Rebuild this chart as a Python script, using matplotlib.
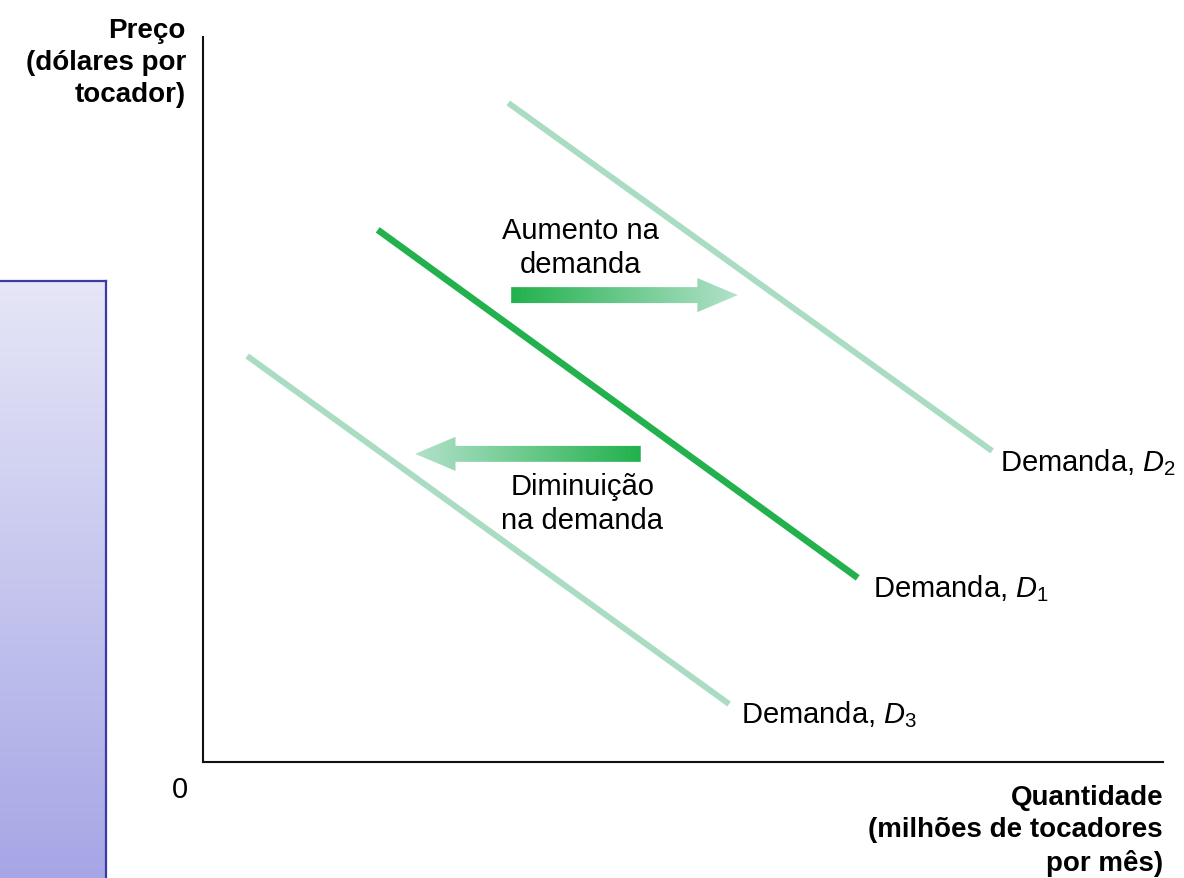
import numpy as np
import matplotlib
matplotlib.use("Agg")
import matplotlib.pyplot as plt
from matplotlib.patches import Polygon
from matplotlib.colors import LinearSegmentedColormap

plt.rcParams['font.family'] = ['Liberation Sans', 'DejaVu Sans']
plt.rcParams['mathtext.fontset'] = 'custom'
plt.rcParams['mathtext.rm'] = 'Liberation Sans'
plt.rcParams['mathtext.it'] = 'Liberation Sans:italic'

# demand curves: (x0, y0) -> (x1, y1) in quantity / price units
d1_x = [1.82, 6.82]
d1_y = [7.34, 2.54]
d2_x = [3.18, 8.22]
d2_y = [9.09, 4.29]
d3_x = [0.46, 5.48]
d3_y = [5.60, 0.80]

# shift arrows: start x, tip x, y
up_arrow = (3.21, 5.57, 6.44)
down_arrow = (4.56, 2.21, 4.25)

dark_green = '#22b14c'
light_green = '#a9dcc2'
FS = 21
FS_BOLD = 20
LS = 1.27

fig = plt.figure(figsize=(11.84, 8.79), dpi=100)

# blue decorative panel on the left
W, H = 1184, 879
bx = fig.add_axes([0, 0, 106 / W, (879 - 282) / H])
grad = np.linspace(0, 1, 256).reshape(-1, 1)
blue_cmap = LinearSegmentedColormap.from_list('b', ['#e6e6f7', '#a6a6e6'])
bx.imshow(grad, aspect='auto', cmap=blue_cmap, extent=[0, 1, 0, 1])
bx.set_xticks([])
bx.set_yticks([])
for s in ['left', 'bottom']:
    bx.spines[s].set_visible(False)
for s in ['top', 'right']:
    bx.spines[s].set_color('#3a3aa5')
    bx.spines[s].set_linewidth(1.6)

ax = fig.add_axes([203 / W, (879 - 763) / H, 960 / W, 725 / H])
ax.set_xlim(0, 10)
ax.set_ylim(0, 10)
ax.set_xticks([])
ax.set_yticks([])
ax.spines['top'].set_visible(False)
ax.spines['right'].set_visible(False)
ax.spines['left'].set_linewidth(1.5)
ax.spines['bottom'].set_linewidth(1.5)
ax.spines['left'].set_color('#111111')
ax.spines['bottom'].set_color('#111111')

ax.plot(d2_x, d2_y, color=light_green, lw=4.3, solid_capstyle='butt')
ax.plot(d3_x, d3_y, color=light_green, lw=4.3, solid_capstyle='butt')
ax.plot(d1_x, d1_y, color=dark_green, lw=4.8, solid_capstyle='butt')

arrow_cmap = LinearSegmentedColormap.from_list('g', [dark_green, '#b3e1cb'])


def grad_arrow(start, tip, y):
    body = 0.11
    head = 0.235
    hl = 0.42 if tip > start else -0.42
    pts = [(start, y - body), (tip - hl, y - body), (tip - hl, y - head), (tip, y),
           (tip - hl, y + head), (tip - hl, y + body), (start, y + body)]
    poly = Polygon(pts, closed=True, facecolor='none', edgecolor='none')
    ax.add_patch(poly)
    g = np.linspace(0, 1, 256).reshape(1, -1)
    if tip < start:
        g = g[:, ::-1]
    im = ax.imshow(g, aspect='auto', cmap=arrow_cmap,
                   extent=[min(start, tip), max(start, tip), y - head, y + head],
                   zorder=3)
    im.set_clip_path(poly)


grad_arrow(*up_arrow)
grad_arrow(*down_arrow)
ax.set_xlim(0, 10)
ax.set_ylim(0, 10)

ax.text(3.93, 7.10, 'Aumento na\ndemanda', ha='center', va='center', fontsize=FS,
        linespacing=LS)
ax.text(3.95, 3.57, 'Diminuição\nna demanda', ha='center', va='center', fontsize=FS,
        linespacing=LS)

ax.text(8.30, 4.15, 'Demanda, $\\mathit{D}_2$', ha='left', va='center',
        fontsize=FS, clip_on=False)
ax.text(6.98, 2.41, 'Demanda, $\\mathit{D}_1$', ha='left', va='center',
        fontsize=FS, clip_on=False)
ax.text(5.60, 0.67, 'Demanda, $\\mathit{D}_3$', ha='left', va='center',
        fontsize=FS, clip_on=False)

fig.text(186 / W, 1 - 63 / H, 'Preço\n(dólares por\ntocador)', ha='right', va='center',
         fontsize=FS_BOLD, fontweight='bold', linespacing=1.32)
fig.text(1163 / W, 1 - 831 / H, 'Quantidade\n(milhões de tocadores\npor mês)', ha='right',
         va='center', fontsize=FS_BOLD, fontweight='bold', linespacing=1.32)
fig.text(180 / W, 1 - 790 / H, '0', ha='center', va='center', fontsize=FS)

fig.savefig('out.png', dpi=100)
